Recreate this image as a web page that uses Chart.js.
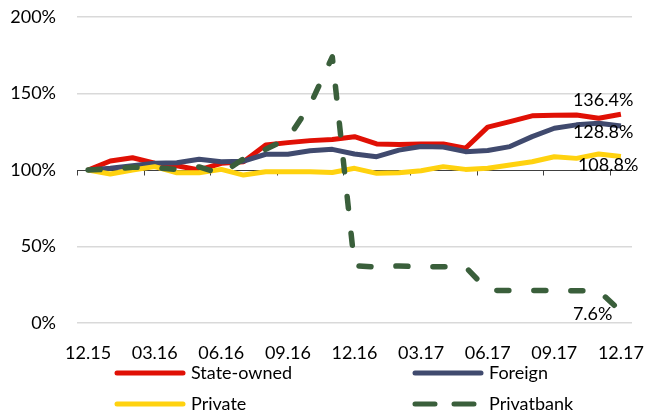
<!DOCTYPE html>
<html>
<head>
<meta charset="utf-8">
<script src="https://cdn.jsdelivr.net/npm/chart.js@4.4.1/dist/chart.umd.min.js"></script>
<style>
  html, body { margin: 0; padding: 0; background: #fff; }
  #wrap { width: 646px; height: 414px; position: relative; }
</style>
</head>
<body>
<div id="wrap"><canvas id="bankChart"></canvas></div>
<script>
// monthly index, 12.15 = 100%
var months = ['12.15', '01.16', '02.16', '03.16', '04.16', '05.16', '06.16', '07.16', '08.16',
    '09.16', '10.16', '11.16', '12.16', '01.17', '02.17', '03.17', '04.17', '05.17', '06.17',
    '07.17', '08.17', '09.17', '10.17', '11.17', '12.17'];

var stateOwned = [100, 105.9, 108, 104.5, 102.8, 100, 104.4, 105.4, 116.4, 117.9, 119.2, 120,
    121.8, 117, 116.6, 117, 117, 114.2, 128, 131.6, 135.4, 135.8, 136, 133.8, 136.4];
var foreign = [100, 101.1, 102.8, 104.4, 104.8, 107, 105.4, 105.8, 110.3, 110.3, 112.6, 113.5,
    110.5, 108.7, 113, 115.3, 115, 112, 112.7, 115.3, 121.8, 127.3, 129.5, 130.6, 128.8];
var privateBanks = [100, 97.4, 100, 102.2, 98.2, 98.2, 100.4, 96.7, 98.9, 98.9, 98.9, 98.4,
    101.1, 97.8, 98.2, 99.5, 102.2, 100.4, 101.1, 103.3, 105.4, 108.7, 107.6, 110.5, 108.8];
var privatbank = [100, 100.5, 101.8, 101.5, 100.4, 102, 97.5, 107.3, 113.5, 120.6, 142.5, 174,
    37.5, 36.5, 37.3, 36.7, 36.7, 36.7, 21.4, 21.2, 21.2, 21.2, 21, 21, 7.6];

var yTicks = [0, 50, 100, 150, 200];

var RedColor = '#e01005';
var NavyColor = '#404a6e';
var YellowColor = '#ffd20f';
var GreenColor = '#3a5f3b';
var FONT = 'Lato, "Open Sans", sans-serif';

// horizontal axis sits on the 100% line, with ticks every quarter
var baseLinePlugin = {
    id: 'baseLine',
    beforeDatasetsDraw: function (chart) {
        var c = chart.ctx, x = chart.scales.x, y = chart.scales.y, a = chart.chartArea;
        var py = Math.round(y.getPixelForValue(100)) + 0.5;
        var half = (x.getPixelForValue(1) - x.getPixelForValue(0)) / 2;
        c.save();
        c.strokeStyle = '#404040';
        c.lineWidth = 1;
        c.beginPath();
        c.moveTo(a.left, py);
        c.lineTo(a.right, py);
        for (var i = 0; i < months.length; i += 3) {
            var px = Math.round(x.getPixelForValue(i) - half) + 0.5;
            c.moveTo(px, py);
            c.lineTo(px, py + 5);
        }
        c.stroke();
        c.restore();
    }
};

// last-value labels
var endLabelPlugin = {
    id: 'endLabels',
    afterDatasetsDraw: function (chart) {
        var c = chart.ctx;
        var offsets = [[-48, -14], [-48, 6], [-43, 9], [-48, 3]];
        c.save();
        c.font = '18px ' + FONT;
        c.fillStyle = '#000';
        c.textAlign = 'left';
        c.textBaseline = 'middle';
        chart.data.datasets.forEach(function (ds, i) {
            var pts = chart.getDatasetMeta(i).data;
            var p = pts[pts.length - 1];
            var v = ds.data[ds.data.length - 1];
            c.fillText(v.toFixed(1) + '%', p.x + offsets[i][0], p.y + offsets[i][1]);
        });
        c.restore();
    }
};

// two-column legend under the axis labels
var legendPlugin = {
    id: 'twoColLegend',
    afterDraw: function (chart) {
        var c = chart.ctx;
        var cols = [115, 413], rows = [373, 404];
        c.save();
        c.font = '18px ' + FONT;
        c.textBaseline = 'middle';
        c.textAlign = 'left';
        chart.data.datasets.forEach(function (ds, i) {
            var lx = cols[i % 2], ly = rows[Math.floor(i / 2)];
            c.strokeStyle = ds.borderColor;
            c.lineWidth = 5;
            c.lineCap = 'round';
            c.setLineDash(ds.borderDash && ds.borderDash.length ? [20, 19] : []);
            c.beginPath();
            c.moveTo(lx + 2, ly);
            c.lineTo(lx + 68, ly);
            c.stroke();
            c.setLineDash([]);
            c.fillStyle = '#000';
            c.fillText(ds.label, lx + 76, ly);
        });
        c.restore();
    }
};

var ctx = document.getElementById('bankChart').getContext('2d');
var bankChart = new Chart(ctx, {
    type: 'line',
    data: {
        labels: months,
        datasets: [{
            label: 'State-owned',
            data: stateOwned,
            borderColor: RedColor,
            order: 4,
        }, {
            label: 'Foreign',
            data: foreign,
            borderColor: NavyColor,
            order: 3,
        }, {
            label: 'Private',
            data: privateBanks,
            borderColor: YellowColor,
            order: 2,
        }, {
            label: 'Privatbank',
            data: privatbank,
            borderColor: GreenColor,
            borderDash: [12, 25],
            borderCapStyle: 'round',
            borderWidth: 5.5,
            order: 1,
        }],
    },
    options: {
        responsive: true,
        maintainAspectRatio: false,
        animation: false,
        layout: { padding: { top: 17, right: 14, left: 0, bottom: 50 } },
        elements: {
            point: { radius: 0 },
            line: { borderWidth: 5, tension: 0, borderJoinStyle: 'round', fill: false },
        },
        plugins: {
            legend: { display: false },
            tooltip: { enabled: false },
        },
        scales: {
            x: {
                type: 'category',
                offset: true,
                grid: { display: false, drawTicks: false },
                border: { display: false },
                afterFit: function (scale) {
                    scale.height = 41;
                    scale.paddingLeft = 0;
                    scale.paddingRight = 0;
                },
                ticks: {
                    autoSkip: false,
                    maxRotation: 0,
                    padding: 19,
                    color: '#000',
                    font: { family: FONT, size: 18 },
                    callback: function (val, idx) { return idx % 3 === 0 ? months[idx] : ''; },
                },
            },
            y: {
                min: 0,
                max: 200,
                afterBuildTicks: function (scale) {
                    scale.ticks = yTicks.map(function (v) { return { value: v }; });
                },
                afterFit: function (scale) {
                    scale.width = 77;
                    scale.paddingTop = 0;
                    scale.paddingBottom = 0;
                },
                grid: {
                    drawTicks: false,
                    color: function (c) { return c.tick && c.tick.value === 100 ? 'rgba(0,0,0,0)' : '#d9d9d9'; },
                    lineWidth: 1.5,
                },
                border: { display: false },
                ticks: {
                    padding: 21,
                    color: '#000',
                    font: { family: FONT, size: 18 },
                    callback: function (v) { return v + '%'; },
                },
            },
        },
    },
    plugins: [baseLinePlugin, endLabelPlugin, legendPlugin],
});
</script>
</body>
</html>
